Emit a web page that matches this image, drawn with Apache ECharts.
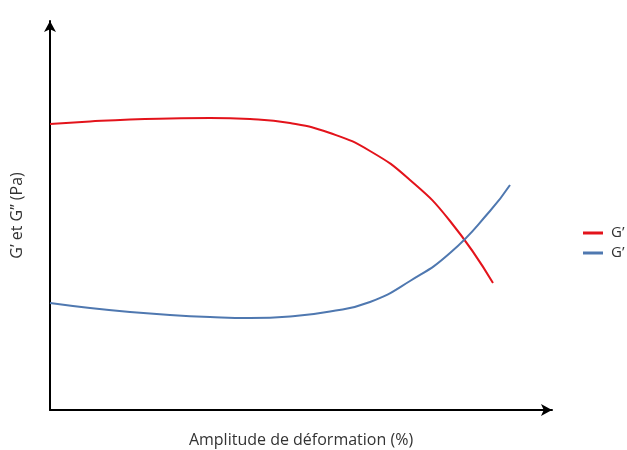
<!DOCTYPE html>
<html>
<head>
<meta charset="utf-8">
<script src="https://cdn.jsdelivr.net/npm/echarts@6/dist/echarts.min.js"></script>
<style>
html, body { margin: 0; padding: 0; background: #fff; }
#chart { width: 627px; height: 450px; }
</style>
</head>
<body>
<div id="chart"></div>
<script>
// values, arbitrary units (no ticks on the original)
const strain = [0, 40, 80, 120, 160, 200, 240, 280, 320, 360, 400, 443];
const gPrime = [286, 288.5, 290.5, 291.5, 292, 291, 287, 277, 259, 230, 189, 127];
const strainB = [0, 40, 80, 120, 160, 200, 240, 280, 320, 360, 400, 440, 460];
const gSecond = [107, 102, 98, 95, 93, 92, 93.5, 98.5, 108, 129, 157, 199, 225];
const legendNames = ['G’', 'G’'];

const chart = echarts.init(document.getElementById('chart'));
const font = 'Open Sans, sans-serif';

const option = {
    animation: false,
    grid: { left: 50, right: 75, top: 21, bottom: 40, outerBoundsMode: 'none', containLabel: false },
    legend: {
        orient: 'vertical',
        left: 583,
        top: 225,
        padding: 0,
        itemWidth: 20,
        itemHeight: 3,
        itemGap: 4,
        icon: 'rect',
        data: ['s0', 's1'],
        formatter: function (name) { return legendNames[name === 's0' ? 0 : 1]; },
        textStyle: { fontFamily: font, fontSize: 15, lineHeight: 16, color: '#333', padding: [0, 0, 0, 3], overflow: 'none' }
    },
    xAxis: {
        type: 'value', min: 0, max: 502,
        name: 'Amplitude de déformation (%)',
        nameLocation: 'middle', nameGap: 22,
        nameTextStyle: { fontFamily: font, fontSize: 16, color: '#333' },
        axisLine: { lineStyle: { color: '#000', width: 2 }, symbol: ['none', 'arrow'], symbolSize: [9, 11] },
        axisTick: { show: false }, axisLabel: { show: false }, splitLine: { show: false }
    },
    yAxis: {
        type: 'value', min: 0, max: 389,
        name: 'G’ et G’’ (Pa)',
        nameLocation: 'middle', nameGap: 25,
        nameTextStyle: { fontFamily: font, fontSize: 16, color: '#333' },
        axisLine: { show: true, lineStyle: { color: '#000', width: 2 }, symbol: ['none', 'arrow'], symbolSize: [9, 11] },
        axisTick: { show: false }, axisLabel: { show: false }, splitLine: { show: false }
    },
    series: [
        { name: 's0', type: 'line', data: strain.map((x, i) => [x, gPrime[i]]), smooth: 0.5, showSymbol: false,
          color: '#e3131b', lineStyle: { width: 2 } },
        { name: 's1', type: 'line', data: strainB.map((x, i) => [x, gSecond[i]]), smooth: 0.5, showSymbol: false,
          color: '#4f78b0', lineStyle: { width: 2 } }
    ]
};
chart.setOption(option);
</script>
</body>
</html>
